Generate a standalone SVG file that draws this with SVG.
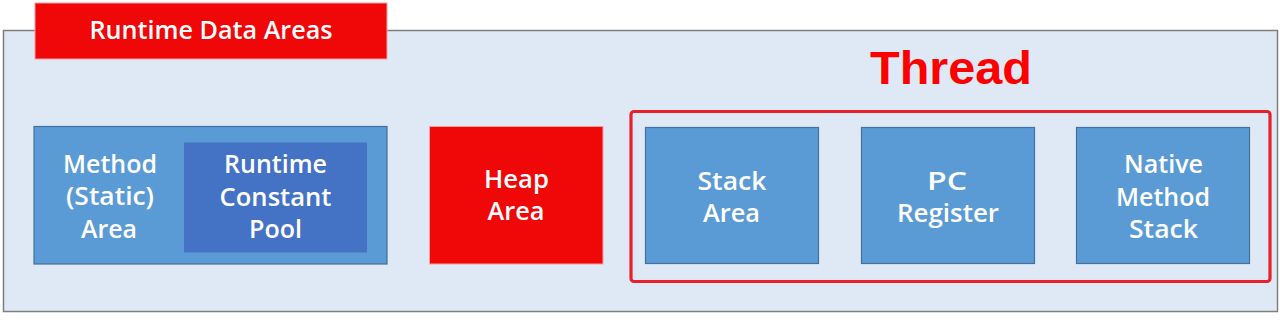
<svg xmlns="http://www.w3.org/2000/svg" width="1280" height="325" viewBox="0 0 1280 325">
<style>
.lbl{font-family:"Open Sans","Liberation Sans",sans-serif;font-size:25px;font-weight:600;fill:#ffffff;text-anchor:middle}
.blue{fill:#5B9BD5;stroke:#41719C;stroke-width:1.2}
.red{fill:#F00707;stroke:#F4A0A0;stroke-width:1}
</style>
<rect width="1280" height="325" fill="#ffffff"/>
<g id="panel">
<rect x="3.5" y="30.5" width="1274" height="281" fill="#DEE9F5" stroke="#7F7F7F" stroke-width="1.5"/>
</g>
<g id="title">
<rect x="35" y="3" width="352" height="56" class="red"/>
<text x="211" y="39" class="lbl" textLength="243" lengthAdjust="spacingAndGlyphs">Runtime Data Areas</text>
</g>
<g id="method">
<rect x="34" y="126.5" width="353" height="137.5" class="blue"/>
<text x="110" y="173" class="lbl" textLength="94" lengthAdjust="spacingAndGlyphs">Method</text>
<text x="110" y="205" class="lbl" textLength="88" lengthAdjust="spacingAndGlyphs">(Static)</text>
<text x="109" y="238" class="lbl" textLength="56" lengthAdjust="spacingAndGlyphs">Area</text>
</g>
<g id="rcp">
<rect x="184" y="142.5" width="183" height="110" fill="#4472C4"/>
<text x="275.5" y="173" class="lbl" textLength="103" lengthAdjust="spacingAndGlyphs">Runtime</text>
<text x="275.5" y="206" class="lbl" textLength="112" lengthAdjust="spacingAndGlyphs">Constant</text>
<text x="275.5" y="238" class="lbl" textLength="53" lengthAdjust="spacingAndGlyphs">Pool</text>
</g>
<g id="heap">
<rect x="429.5" y="126.5" width="173.5" height="137.5" class="red"/>
<text x="516.5" y="188" class="lbl" textLength="65" lengthAdjust="spacingAndGlyphs">Heap</text>
<text x="516" y="220" class="lbl" textLength="57" lengthAdjust="spacingAndGlyphs">Area</text>
</g>
<g id="thread">
<text x="951" y="84" font-family="'Liberation Sans',Arial,sans-serif" font-size="46" font-weight="bold" fill="#FF0000" text-anchor="middle" textLength="162" lengthAdjust="spacingAndGlyphs">Thread</text>
<rect x="631" y="111.5" width="639" height="170" rx="3" fill="none" stroke="#E8202A" stroke-width="3.2"/>
</g>
<g id="stack">
<rect x="645.5" y="127.5" width="173" height="136" class="blue"/>
<text x="732" y="190" class="lbl" textLength="69" lengthAdjust="spacingAndGlyphs">Stack</text>
<text x="731.5" y="222" class="lbl" textLength="57" lengthAdjust="spacingAndGlyphs">Area</text>
</g>
<g id="pc">
<rect x="861.5" y="127.5" width="173" height="136" class="blue"/>
<text x="947" y="190" class="lbl" textLength="40" lengthAdjust="spacingAndGlyphs">PC</text>
<text x="948" y="222" class="lbl" textLength="102" lengthAdjust="spacingAndGlyphs">Register</text>
</g>
<g id="native">
<rect x="1076.5" y="127.5" width="173" height="136" class="blue"/>
<text x="1163.5" y="173" class="lbl" textLength="79" lengthAdjust="spacingAndGlyphs">Native</text>
<text x="1163" y="206" class="lbl" textLength="94" lengthAdjust="spacingAndGlyphs">Method</text>
<text x="1163.5" y="238" class="lbl" textLength="69" lengthAdjust="spacingAndGlyphs">Stack</text>
</g>
<g id="connectors"></g>
</svg>
